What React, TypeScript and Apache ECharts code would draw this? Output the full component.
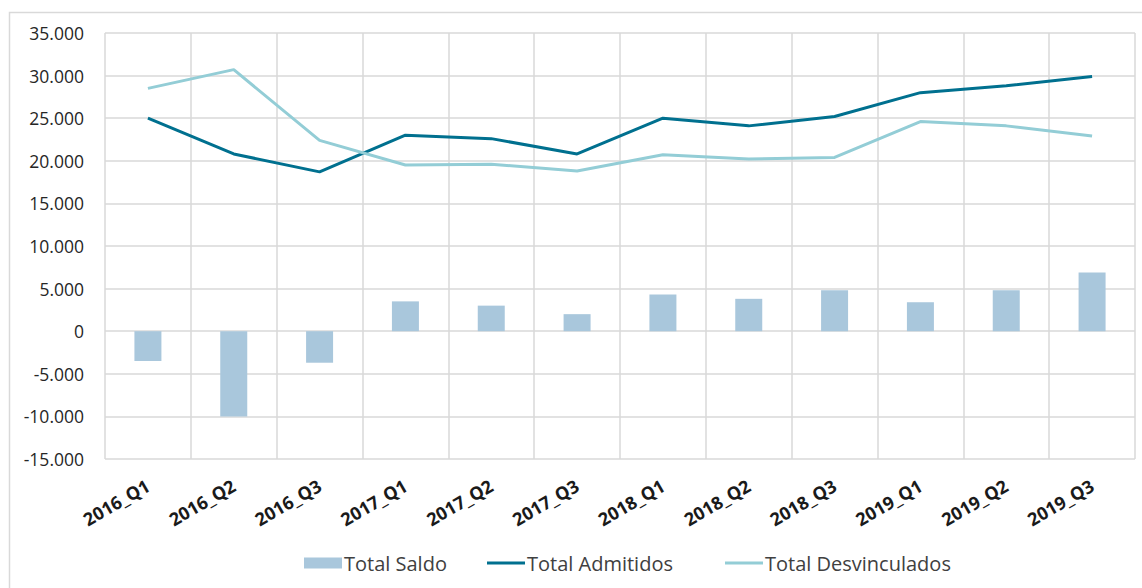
import React, { useEffect, useRef } from "react";
import * as echarts from "echarts";

const categories = [
  "2016_Q1", "2016_Q2", "2016_Q3",
  "2017_Q1", "2017_Q2", "2017_Q3",
  "2018_Q1", "2018_Q2", "2018_Q3",
  "2019_Q1", "2019_Q2", "2019_Q3",
];
const totalSaldo = [-3500, -10000, -3700, 3500, 3000, 2000, 4300, 3800, 4800, 3400, 4800, 6900];
const totalAdmitidos = [25000, 20800, 18700, 23000, 22600, 20800, 25000, 24100, 25200, 28000, 28800, 29900];
const totalDesvinculados = [28500, 30700, 22400, 19500, 19600, 18800, 20700, 20200, 20400, 24600, 24100, 22900];

const fmt = (v: number) => {
  const s = Math.abs(v).toString().replace(/\B(?=(\d{3})+(?!\d))/g, ".");
  return (v < 0 ? "-" : "") + s;
};

export default function App() {
  const ref = useRef<HTMLDivElement>(null);
  useEffect(() => {
    if (!ref.current) return;
    const chart = echarts.init(ref.current, null, { renderer: "svg" });
    const font = "'Open Sans', 'Noto Sans', sans-serif";
    const lineIcon = "path://M0,0H38V3H0Z";
    const legendBase = {
      bottom: 10,
      itemWidth: 38,
      itemHeight: 11,
      textStyle: { fontFamily: font, fontSize: 20, color: "#404040", padding: [0, 0, 0, -3] },
    };
    chart.setOption({
      animation: false,
      backgroundColor: "#ffffff",
      graphic: [
        {
          type: "polyline",
          shape: { points: [[9.5, 600], [9.5, 12.5], [1150, 12.5]] },
          style: { stroke: "#D9D9D9", fill: "none", lineWidth: 1.5 },
          silent: true,
        },
      ],
      grid: { left: 105, right: 7, top: 33, bottom: 129, containLabel: false },
      legend: [
        { ...legendBase, left: 299, data: [{ name: "Total Saldo", icon: "rect" }] },
        { ...legendBase, left: 482, data: [{ name: "Total Admitidos", icon: lineIcon }] },
        { ...legendBase, left: 720, data: [{ name: "Total Desvinculados", icon: lineIcon }] },
      ],
      xAxis: {
        type: "category",
        data: categories,
        boundaryGap: true,
        axisLine: { show: false },
        axisTick: { show: false },
        splitLine: { show: true, lineStyle: { color: "#D9D9D9", width: 1.5 } },
        axisLabel: {
          interval: 0,
          rotate: 30,
          margin: 25,
          fontFamily: font,
          fontWeight: "bold",
          fontSize: 18,
          color: "#1a1a1a",
        },
      },
      yAxis: {
        type: "value",
        min: -15000,
        max: 35000,
        interval: 5000,
        axisLine: { show: false },
        axisTick: { show: false },
        splitLine: { show: true, lineStyle: { color: "#D9D9D9", width: 1.5 } },
        axisLabel: {
          margin: 21,
          fontFamily: font,
          fontSize: 17.5,
          color: "#262626",
          formatter: (v: number) => fmt(v),
        },
      },
      series: [
        {
          name: "Total Saldo",
          type: "bar",
          data: totalSaldo,
          barWidth: 27,
          itemStyle: { color: "#A9C7DC" },
        },
        {
          name: "Total Admitidos",
          type: "line",
          data: totalAdmitidos,
          symbol: "none",
          lineStyle: { color: "#00708F", width: 3 },
          itemStyle: { color: "#00708F" },
        },
        {
          name: "Total Desvinculados",
          type: "line",
          data: totalDesvinculados,
          symbol: "none",
          lineStyle: { color: "#93CDD6", width: 3 },
          itemStyle: { color: "#93CDD6" },
        },
      ],
    });
    return () => chart.dispose();
  }, []);
  return (
    <div
      ref={ref}
      style={{ position: "fixed", left: 0, top: 0, width: 1142, height: 588 }}
    />
  );
}
